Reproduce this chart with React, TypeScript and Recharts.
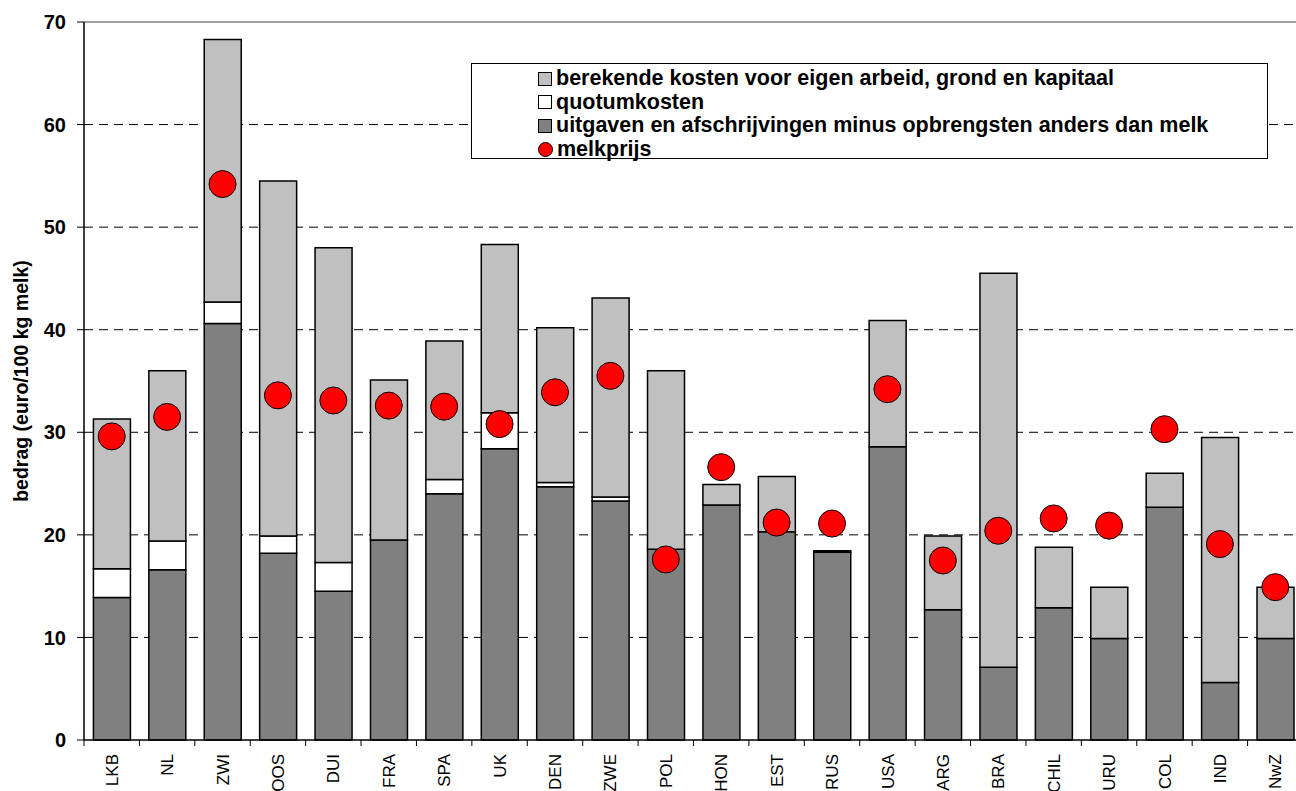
import React from "react";
import {
  Bar,
  CartesianGrid,
  ComposedChart,
  Line,
  ReferenceLine,
  XAxis,
  YAxis,
} from "recharts";

const categories = ["LKB", "NL", "ZWI", "OOS", "DUI", "FRA", "SPA", "UK", "DEN", "ZWE", "POL", "HON", "EST", "RUS", "USA", "ARG", "BRA", "CHIL", "URU", "COL", "IND", "NwZ"];
// uitgaven en afschrijvingen minus opbrengsten anders dan melk
const uitgaven = [13.9, 16.6, 40.6, 18.2, 14.5, 19.5, 24.0, 28.4, 24.7, 23.3, 18.6, 22.9, 20.3, 18.3, 28.6, 12.7, 7.1, 12.9, 9.9, 22.7, 5.6, 9.9];
const quotum = [2.8, 2.8, 2.1, 1.7, 2.8, 0, 1.4, 3.5, 0.4, 0.4, 0, 0, 0, 0, 0, 0, 0, 0, 0, 0, 0, 0];
// berekende kosten voor eigen arbeid, grond en kapitaal
const eigen = [14.6, 16.6, 25.6, 34.6, 30.7, 15.6, 13.5, 16.4, 15.1, 19.4, 17.4, 2.0, 5.4, 0.15, 12.3, 7.2, 38.4, 5.9, 5.0, 3.3, 23.9, 5.0];
const melkprijs = [29.6, 31.5, 54.2, 33.6, 33.1, 32.6, 32.5, 30.8, 33.9, 35.5, 17.6, 26.6, 21.2, 21.1, 34.2, 17.5, 20.4, 21.6, 20.9, 30.3, 19.1, 14.9];
const yTicks = [0, 10, 20, 30, 40, 50, 60, 70];

const legendItems = [
  { label: "berekende kosten voor eigen arbeid, grond en kapitaal", color: "#C0C0C0", round: false },
  { label: "quotumkosten", color: "#FFFFFF", round: false },
  { label: "uitgaven en afschrijvingen minus opbrengsten anders dan melk", color: "#808080", round: false },
  { label: "melkprijs", color: "#FF0000", round: true },
];

const FONT = '"Liberation Sans", Arial, sans-serif';

const data = categories.map((name, i) => ({
  name,
  uitgaven: uitgaven[i],
  quotum: quotum[i],
  eigen: eigen[i],
  melkprijs: melkprijs[i],
}));

function CountryTick(props: any) {
  const { x, y, payload, width, visibleTicksCount, index } = props;
  const band = width / visibleTicksCount;
  const ty = y + 14;
  return (
    <g>
      <line x1={x - band / 2} x2={x - band / 2} y1={y} y2={y + 6} stroke="#000" />
      {index === visibleTicksCount - 1 && (
        <line x1={x + band / 2} x2={x + band / 2} y1={y} y2={y + 6} stroke="#000" />
      )}
      <text
        x={x}
        y={ty}
        transform={`rotate(-90, ${x}, ${ty})`}
        textAnchor="end"
        dy="0.36em"
        fontFamily={FONT}
        fontSize={17}
        fill="#000"
      >
        {payload.value}
      </text>
    </g>
  );
}

function ChartLegend() {
  return (
    <div
      style={{
        position: "absolute",
        left: 471,
        top: 63,
        boxSizing: "border-box",
        width: 797,
        height: 96,
        border: "1px solid #000",
        background: "#fff",
        padding: "3px 0 0 66px",
        fontFamily: FONT,
        fontWeight: "bold",
        fontSize: 21.5,
        color: "#000",
      }}
    >
      {legendItems.map((it) => (
        <div key={it.label} style={{ display: "flex", alignItems: "center", height: 23.5, whiteSpace: "nowrap" }}>
          <span
            style={{
              display: "inline-block",
              flex: "none",
              boxSizing: "border-box",
              width: it.round ? 15 : 14,
              height: it.round ? 15 : 14,
              border: "1px solid #000",
              background: it.color,
              borderRadius: it.round ? "50%" : 0,
              marginRight: 4,
            }}
          />
          <span>{it.label}</span>
        </div>
      ))}
    </div>
  );
}

function YLabel(props: any) {
  const { viewBox } = props;
  const cy = viewBox.y + viewBox.height / 2;
  const cx = 28;
  return (
    <text
      x={cx}
      y={cy}
      transform={`rotate(-90, ${cx}, ${cy})`}
      textAnchor="middle"
      fontFamily={FONT}
      fontWeight="bold"
      fontSize={19.5}
      fill="#000"
    >
      bedrag (euro/100 kg melk)
    </text>
  );
}

export default function App() {
  return (
    <div
      style={{
        position: "absolute",
        left: 0,
        top: 0,
        width: 1296,
        height: 791,
        overflow: "hidden",
        background: "#fff",
      }}
    >
      <ComposedChart
        width={1303}
        height={791}
        data={data}
        margin={{ top: 22, right: 0, bottom: 0, left: 0 }}
        barCategoryGap="17%"
      >
        <CartesianGrid
          vertical={false}
          horizontalValues={[10, 20, 30, 40, 50, 60]}
          stroke="#000"
          strokeDasharray="9 6"
        />
        <ReferenceLine y={70} stroke="#808080" strokeWidth={1.5} />
        <XAxis
          dataKey="name"
          height={51}
          interval={0}
          tickSize={0}
          tickMargin={0}
          tickLine={false}
          axisLine={{ stroke: "#000", strokeWidth: 1.5 }}
          tick={<CountryTick />}
        />
        <YAxis
          width={84}
          domain={[0, 70]}
          ticks={yTicks}
          interval={0}
          tickSize={7}
          tickMargin={11}
          tickLine={{ stroke: "#000" }}
          axisLine={{ stroke: "#000", strokeWidth: 1.5 }}
          tick={{ fill: "#000", fontSize: 20, fontWeight: "bold", fontFamily: FONT }}
          label={<YLabel />}
        />
        <Bar dataKey="uitgaven" stackId="k" fill="#808080" stroke="#000" strokeWidth={1.5} isAnimationActive={false} />
        <Bar dataKey="quotum" stackId="k" fill="#FFFFFF" stroke="#000" strokeWidth={1.5} isAnimationActive={false} />
        <Bar dataKey="eigen" stackId="k" fill="#C0C0C0" stroke="#000" strokeWidth={1.5} isAnimationActive={false} />
        <Line
          dataKey="melkprijs"
          stroke="none"
          dot={{ r: 13.5, fill: "#FF0000", stroke: "#000", strokeWidth: 1, fillOpacity: 1 }}
          activeDot={false}
          isAnimationActive={false}
        />
      </ComposedChart>
      <ChartLegend />
    </div>
  );
}
